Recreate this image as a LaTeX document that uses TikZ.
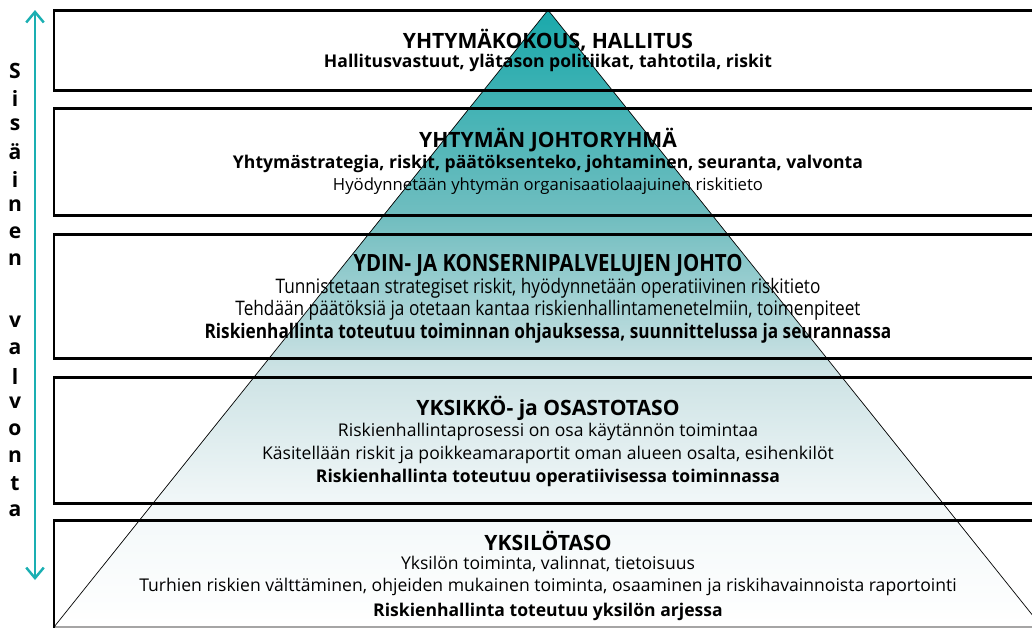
\documentclass[tikz,border=0pt]{standalone}
\usepackage{fontspec}
\setmainfont{Open Sans}
\usetikzlibrary{arrows.meta}
\definecolor{valvonta}{HTML}{1AAFB2}
\definecolor{pyrA}{HTML}{F3F8F9}
\definecolor{pyrB}{HTML}{CCE2E4}
\definecolor{pyrC}{HTML}{72BEC0}
\definecolor{pyrD}{HTML}{1AA9AB}
\pgfdeclareverticalshading{pyramidi}{100bp}{color(0bp)=(white); color(25bp)=(white); color(34.5bp)=(pyrA); color(46bp)=(pyrB); color(58bp)=(pyrC); color(75bp)=(pyrD); color(100bp)=(pyrD)}
\newcommand{\kapea}[1]{\scalebox{0.86}[1]{#1}}

\begin{document}
\begin{tikzpicture}[x=0.02cm,y=-0.02cm,
    laatikko/.style={line width=1.7pt},
    otsikko/.style={font=\bfseries\fontsize{12}{14}\selectfont},
    vahva/.style={font=\bfseries\fontsize{10}{12}\selectfont},
    teksti/.style={font=\fontsize{10}{12}\selectfont},
    kirjain/.style={font=\bfseries\fontsize{12}{14}\selectfont,inner sep=0pt}]
  \useasboundingbox (0,0) rectangle (1032,627);
  \clip (0,0) rectangle (1032,627);

  % pyramidi
  \shadedraw[shading=pyramidi,draw=black,line width=0.4pt] (548,10) -- (1042,627) -- (54,627) -- cycle;

  % tasot
  \draw[laatikko] (54,10) rectangle (1045,90);
  \draw[laatikko] (54,108) rectangle (1045,215);
  \draw[laatikko] (54,234) rectangle (1045,358);
  \draw[laatikko] (54,377) rectangle (1045,503);
  \draw[laatikko] (54,520) rectangle (1045,640);

  % sisäinen valvonta
  \coordinate (ylos) at (35,10);
  \coordinate (alas) at (35,580);
  \draw[valvonta,line width=1.4pt,{Straight Barb[length=6pt,width=10pt]}-{Straight Barb[length=6pt,width=10pt]}] (ylos) -- (alas);
  \foreach \ch [count=\i from 0] in {S,i,s,ä,i,n,e,n}
    \node[kirjain] (s\i) at (15,71+27*\i) {\ch};
  \foreach \ch [count=\i from 0] in {v,a,l,v,o,n,t,a}
    \node[kirjain] (v\i) at (15,322+27*\i) {\ch};

  % taso 1
  \node[otsikko] (t1a) at (548,40) {YHTYMÄKOKOUS, HALLITUS};
  \node[vahva] (t1b) at (548,63) {Hallitusvastuut, ylätason politiikat, tahtotila, riskit};

  % taso 2
  \node[otsikko] (t2a) at (548,140) {YHTYMÄN JOHTORYHMÄ};
  \node[vahva] (t2b) at (548,164) {Yhtymästrategia, riskit, päätöksenteko, johtaminen, seuranta, valvonta};
  \node[teksti,font=\fontsize{9.5}{11}\selectfont] (t2c) at (548,186) {Hyödynnetään yhtymän organisaatiolaajuinen riskitieto};

  % taso 3
  \node[otsikko,font=\bfseries\fontsize{13.5}{15}\selectfont] (t3a) at (548,265) {\kapea{YDIN- JA KONSERNIPALVELUJEN JOHTO}};
  \node[teksti,font=\fontsize{11.4}{13}\selectfont] (t3b) at (548,288) {\kapea{Tunnistetaan strategiset riskit, hyödynnetään operatiivinen riskitieto}};
  \node[teksti,font=\fontsize{11.4}{13}\selectfont] (t3c) at (548,310) {\kapea{Tehdään päätöksiä ja otetaan kantaa riskienhallintamenetelmiin, toimenpiteet}};
  \node[vahva,font=\bfseries\fontsize{11.4}{13}\selectfont] (t3d) at (548,333) {\kapea{Riskienhallinta toteutuu toiminnan ohjauksessa, suunnittelussa ja seurannassa}};

  % taso 4
  \node[otsikko] (t4a) at (548,408) {YKSIKKÖ- ja OSASTOTASO};
  \node[teksti] (t4b) at (548,432) {Riskienhallintaprosessi on osa käytännön toimintaa};
  \node[teksti] (t4c) at (548,455) {Käsitellään riskit ja poikkeamaraportit oman alueen osalta, esihenkilöt};
  \node[vahva] (t4d) at (548,478) {Riskienhallinta toteutuu operatiivisessa toiminnassa};

  % taso 5
  \node[otsikko] (t5a) at (548,541) {YKSILÖTASO};
  \node[teksti] (t5b) at (548,564) {Yksilön toiminta, valinnat, tietoisuus};
  \node[teksti] (t5c) at (548,587) {Turhien riskien välttäminen, ohjeiden mukainen toiminta, osaaminen ja riskihavainnoista raportointi};
  \node[vahva] (t5d) at (548,612) {Riskienhallinta toteutuu yksilön arjessa};
\end{tikzpicture}
\end{document}
